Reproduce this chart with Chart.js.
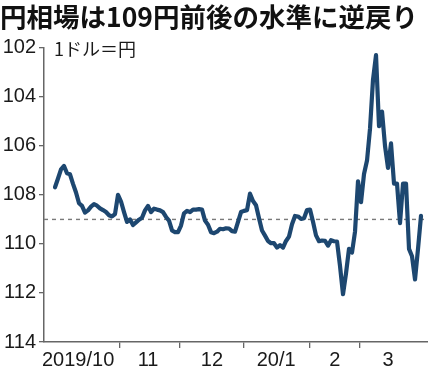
<!DOCTYPE html>
<html>
<head>
<meta charset="utf-8">
<script src="https://cdn.jsdelivr.net/npm/chart.js@4/dist/chart.umd.min.js"></script>
<style>
html,body{margin:0;padding:0;background:#fff;}
canvas{display:block;}
</style>
</head>
<body>
<canvas id="c" width="428" height="373"></canvas>
<script>
// ---- data (one value per trading day, 2019/10 - 2020/3, yen per dollar) ----
const titleText = '円相場は109円前後の水準に逆戻り';
const unitText = '1ドル＝円';
const dayValues = [
  107.69,107.33,106.96,106.82,107.12,107.16,107.55,107.90,108.34,108.45,
  108.72,108.63,108.48,108.38,108.44,108.55,108.62,108.70,108.83,108.88,
  108.78,108.00,108.27,108.70,109.10,109.00,109.23,109.12,109.01,108.93,
  108.63,108.45,108.70,108.56,108.60,108.63,108.70,108.90,109.05,109.45,
  109.52,109.52,109.25,108.75,108.65,108.70,108.60,108.60,108.58,108.60,
  109.05,109.22,109.52,109.56,109.50,109.38,109.40,109.36,109.37,109.48,
  109.50,109.10,108.70,108.65,108.62,107.95,108.25,108.42,108.95,109.45,
  109.66,109.88,109.97,109.97,110.15,110.05,110.15,109.88,109.70,109.20,
  108.86,108.88,108.98,108.95,108.62,108.60,109.10,109.65,109.89,109.86,
  109.87,110.07,109.85,109.89,109.90,110.90,112.05,111.20,110.20,110.35,
  109.50,107.45,108.30,107.15,106.60,105.30,103.30,102.30,105.20,104.60,
  106.00,106.90,105.90,107.54,107.54,109.15,107.54,107.54,110.20,110.50,
  111.45,110.20,108.85
];
const monthLabels = ['2019/10','11','12','20/1','2','3'];
const monthBoundaryIdx = [21.5, 41.5, 63, 85, 101.5];   // day index where a new month begins
const monthLabelIdx = [7.7, 31, 52.3, 73.7, 93.3, 111];  // label placed mid-month
const xRange = [-3.67, 124.33];                          // first/last day index of the axis
const yTicks = [102,104,106,108,110,112,114];
const refLevel = 109;

// ---- chart ----
Chart.defaults.font.family = "'Liberation Sans', Arial, sans-serif";
const lineData = dayValues.map((v,i)=>({x:i,y:v}));
const refData = [{x:xRange[0],y:refLevel},{x:xRange[1],y:refLevel}];

const unitPlugin = {
  id:'unitLabel',
  afterDraw(chart){
    const {ctx, chartArea, scales} = chart;
    ctx.save();
    ctx.font = "18px 'Noto Sans CJK JP', sans-serif";
    ctx.fillStyle = '#1a1a1a';
    ctx.textBaseline = 'middle';
    ctx.textAlign = 'left';
    ctx.fillText(unitText, chartArea.left + 10, scales.y.getPixelForValue(yTicks[0]) + 1);
    ctx.restore();
  }
};

new Chart(document.getElementById('c'), {
  type:'line',
  data:{
    datasets:[
      {data:lineData, borderColor:'#1d4770', borderWidth:4.2, pointRadius:0,
       borderJoinStyle:'round', borderCapStyle:'round', tension:0, fill:false},
      {data:refData, borderColor:'#7a7a7a', borderWidth:1.4, borderDash:[4,4],
       pointRadius:0, fill:false}
    ]
  },
  options:{
    responsive:false, animation:false, devicePixelRatio:1,
    layout:{padding:{left:0,right:0,top:0,bottom:0}},
    plugins:{
      legend:{display:false}, tooltip:{enabled:false},
      title:{display:true, text:titleText, align:'start', color:'#111',
        font:{family:"'Noto Sans CJK JP', sans-serif", size:26.5, weight:'bold'},
        padding:{top:1,bottom:15}}
    },
    scales:{
      x:{type:'linear', min:xRange[0], max:xRange[1],
        afterFit(s){ s.height = 31; },
        afterBuildTicks(s){
          s.ticks = monthBoundaryIdx.concat(monthLabelIdx).map(v=>({value:v}));
        },
        ticks:{autoSkip:false, maxRotation:0, padding:0, color:'#1a1a1a',
          font:{size:20},
          callback(v){ const k = monthLabelIdx.indexOf(v); return k>=0 ? monthLabels[k] : ''; }},
        grid:{drawOnChartArea:false, drawTicks:true, tickLength:6, lineWidth:1.3,
          tickColor(ctx){ return (ctx.tick && monthBoundaryIdx.includes(ctx.tick.value)) ? '#666' : 'rgba(0,0,0,0)'; }},
        border:{display:true, color:'#666', width:1.5}
      },
      y:{type:'linear', reverse:true, min:yTicks[0], max:yTicks[yTicks.length-1],
        afterFit(s){ s.width = 44; },
        afterBuildTicks(s){ s.ticks = yTicks.map(v=>({value:v})); },
        ticks:{padding:3, color:'#1a1a1a', font:{size:20}},
        grid:{drawOnChartArea:false, drawTicks:true, tickLength:5, tickColor:'#666', lineWidth:1.3},
        border:{display:true, color:'#666', width:1.5}
      }
    }
  },
  plugins:[unitPlugin]
});
</script>
</body>
</html>
